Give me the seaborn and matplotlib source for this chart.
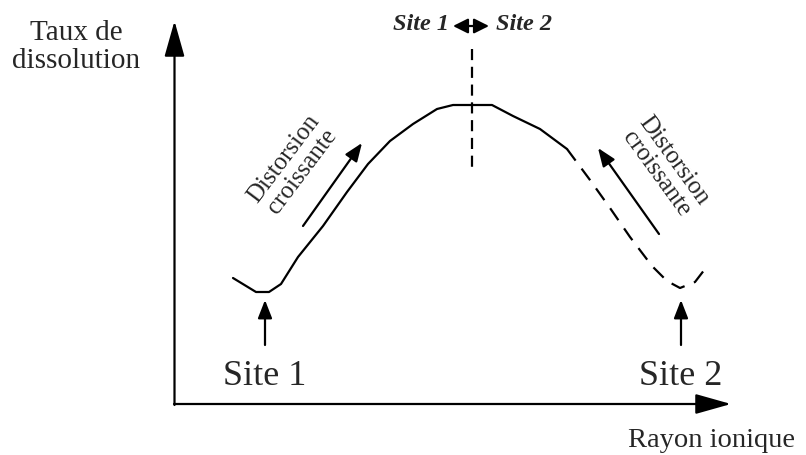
import matplotlib
matplotlib.use("Agg")
import matplotlib.pyplot as plt
import seaborn as sns

# schematic curve (drawing units, y grows downward)
solid_x = [233, 256, 269, 281, 298, 323, 347, 368, 390, 413, 437, 453, 492, 513, 540, 567]
solid_y = [279, 293, 293, 285, 258, 227, 193, 165, 142, 125, 110, 106, 106, 117, 130, 150]
dash_x = [567, 590, 610, 630, 652, 667, 680, 695, 705]
dash_y = [150, 181, 209, 238, 267, 282, 289, 283, 270]

site_labels = ["Site 1", "Site 2"]
site_x = [265, 681]

sns.set_style("white")
plt.rcParams['font.family'] = ['Liberation Serif', 'DejaVu Serif']

fig = plt.figure(figsize=(8.06, 4.56), dpi=100)
ax = fig.add_axes([0, 0, 1, 1])
ax.set_xlim(0, 806)
ax.set_ylim(456, 0)
ax.axis('off')

sns.lineplot(x=solid_x, y=solid_y, ax=ax, color='black', lw=1.6, sort=False, estimator=None)
sns.lineplot(x=dash_x, y=dash_y, ax=ax, color='black', lw=1.6, sort=False, estimator=None,
             linestyle=(0, (6.5, 4.5)))

big_arrow = dict(arrowstyle='-|>,head_length=2.2,head_width=0.62', color='black', lw=1.6,
                 shrinkA=0, shrinkB=0)
arrow = dict(arrowstyle='-|>,head_length=1.1,head_width=0.43', color='black', lw=1.6,
             shrinkA=0, shrinkB=0)

# axes
ax.annotate('', xy=(174.5, 22), xytext=(174.5, 406), arrowprops=big_arrow)
ax.annotate('', xy=(731, 405), xytext=(174, 405), arrowprops=big_arrow)
ax.text(76, 47, 'Taux de\ndissolution', ha='center', va='center', fontsize=21, linespacing=1.1)
ax.text(711, 441, 'Rayon ionique', ha='center', va='center', fontsize=20.5)

# site markers
for lab, sx in zip(site_labels, site_x):
    ax.annotate('', xy=(sx, 301), xytext=(sx, 346), arrowprops=arrow)
    ax.text(sx, 385, lab, ha='center', va='baseline', fontsize=26)

# boundary between sites
ax.plot([472, 472], [50, 170], color='black', lw=1.6, linestyle=(0, (5, 3)))
ax.text(449, 25, 'Site 1', ha='right', va='center', fontsize=17.5, fontweight='bold', style='italic')
ax.text(496, 25, 'Site 2', ha='left', va='center', fontsize=17.5, fontweight='bold', style='italic')
ax.annotate('', xy=(489, 27), xytext=(453, 27),
            arrowprops=dict(arrowstyle='<|-|>,head_length=0.9,head_width=0.45', color='black',
                            lw=1.6, shrinkA=0, shrinkB=0))

# distortion arrows
ax.annotate('', xy=(362, 144), xytext=(303, 227), arrowprops=arrow)
ax.text(293, 165, 'Distorsion\ncroissante', ha='center', va='center', fontsize=18,
        rotation=53, linespacing=1.0)
ax.annotate('', xy=(598, 149), xytext=(659, 235), arrowprops=arrow)
ax.text(665, 167, 'Distorsion\ncroissante', ha='center', va='center', fontsize=18,
        rotation=-54, linespacing=1.0)

fig.savefig('out.png', dpi=100)
